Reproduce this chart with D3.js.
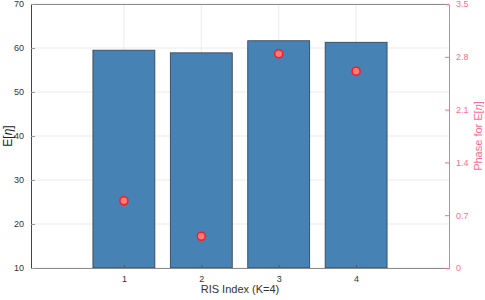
<!DOCTYPE html>
<html lang="en">
<head>
<style>
  body { margin: 0; background: #fff; }
  text { font-family: "Liberation Sans", Arial, sans-serif; }
</style>
<title>RIS index</title>
</head>
<body>
<div id="chart"></div>
<script src="https://d3js.org/d3.v7.min.js"></script>
<script>
const categories = [1, 2, 3, 4];
const meanValues = [59.5, 58.9, 61.65, 61.3];
const phaseValues = [0.89, 0.42, 2.84, 2.61];
const leftTicks = [10, 20, 30, 40, 50, 60, 70];
const rightTicks = [0, 0.7, 1.4, 2.1, 2.8, 3.5];

const w = 485, h = 300;
const m = {left: 31, right: 36, top: 4, bottom: 32};
const pink = "#ff6b8e";

const svg = d3.select("#chart").append("svg")
    .attr("width", w).attr("height", h);

const x = d3.scaleLinear().domain([-0.2, 5.2]).range([m.left, w - m.right]);
const y = d3.scaleLinear().domain([10, 70]).range([h - m.bottom, m.top]);
const y2 = d3.scaleLinear().domain([0, 3.5]).range([h - m.bottom, m.top]);
const barW = (x(2) - x(1)) * 0.8;

// grid
svg.append("g").selectAll("line").data(leftTicks).enter().append("line")
    .attr("x1", m.left).attr("x2", w - m.right)
    .attr("y1", d => y(d)).attr("y2", d => y(d))
    .attr("stroke", "#ebebeb");
svg.append("g").selectAll("line").data(categories).enter().append("line")
    .attr("x1", d => x(d)).attr("x2", d => x(d))
    .attr("y1", m.top).attr("y2", h - m.bottom)
    .attr("stroke", "#ebebeb");

// bars
svg.append("g").selectAll("rect").data(categories).enter().append("rect")
    .attr("x", d => x(d) - barW / 2)
    .attr("width", barW)
    .attr("y", (d, i) => y(meanValues[i]))
    .attr("height", (d, i) => y(10) - y(meanValues[i]))
    .attr("fill", "#4682b4")
    .attr("stroke", "#2c3e50")
    .attr("stroke-width", 0.8);

// box top
svg.append("line").attr("x1", m.left).attr("x2", w - m.right)
    .attr("y1", m.top + 0.5).attr("y2", m.top + 0.5).attr("stroke", "#8a8a8a");

// x axis
const xAxis = svg.append("g")
    .attr("transform", `translate(0,${h - m.bottom})`)
    .call(d3.axisBottom(x).tickValues(categories).tickFormat(d3.format("d"))
      .tickSize(-3).tickPadding(8).tickSizeOuter(0));
xAxis.select(".domain").attr("stroke", "#8a8a8a");
xAxis.selectAll(".tick line").attr("stroke", "#555");
xAxis.selectAll("text").attr("font-size", 9).attr("fill", "#333");

// left axis
const yAxis = svg.append("g")
    .attr("transform", `translate(${m.left},0)`)
    .call(d3.axisLeft(y).tickValues(leftTicks).tickSize(-4).tickPadding(7).tickSizeOuter(0));
yAxis.select(".domain").attr("stroke", "#444");
yAxis.selectAll(".tick line").attr("stroke", "#999");
yAxis.selectAll("text").attr("font-size", 9).attr("fill", "#333");

// right axis
const y2Axis = svg.append("g")
    .attr("transform", `translate(${w - m.right},0)`)
    .call(d3.axisRight(y2).tickValues(rightTicks).tickSize(-4).tickPadding(7).tickSizeOuter(0)
      .tickFormat(d => d === 0 ? "0" : d3.format(".1f")(d)));
y2Axis.select(".domain").attr("stroke", pink);
y2Axis.selectAll(".tick line").attr("stroke", pink);
y2Axis.selectAll("text").attr("font-size", 9).attr("fill", pink);

// phase dots
svg.append("g").selectAll("circle").data(categories).enter().append("circle")
    .attr("cx", d => x(d))
    .attr("cy", (d, i) => y2(phaseValues[i]))
    .attr("r", 4)
    .attr("fill", "#ff7a7a")
    .attr("stroke", "#ff1a1a")
    .attr("stroke-width", 1.5);

// labels
svg.append("text")
    .attr("x", (m.left + w - m.right) / 2).attr("y", 293)
    .attr("text-anchor", "middle").attr("font-size", 11).attr("fill", "#333")
    .text("RIS Index (K=4)");

const ly = svg.append("text")
    .attr("transform", `translate(12,${(m.top + h - m.bottom) / 2}) rotate(-90)`)
    .attr("text-anchor", "middle").attr("font-size", 12).attr("fill", "#222");
ly.append("tspan").text("E[");
ly.append("tspan").attr("font-style", "italic").text("η");
ly.append("tspan").text("]");

const ry = svg.append("text")
    .attr("transform", `translate(482,${(m.top + h - m.bottom) / 2}) rotate(-90)`)
    .attr("text-anchor", "middle").attr("font-size", 11).attr("fill", pink);
ry.append("tspan").text("Phase for E[");
ry.append("tspan").attr("font-style", "italic").text("η");
ry.append("tspan").text("]");
</script>
</body>
</html>
